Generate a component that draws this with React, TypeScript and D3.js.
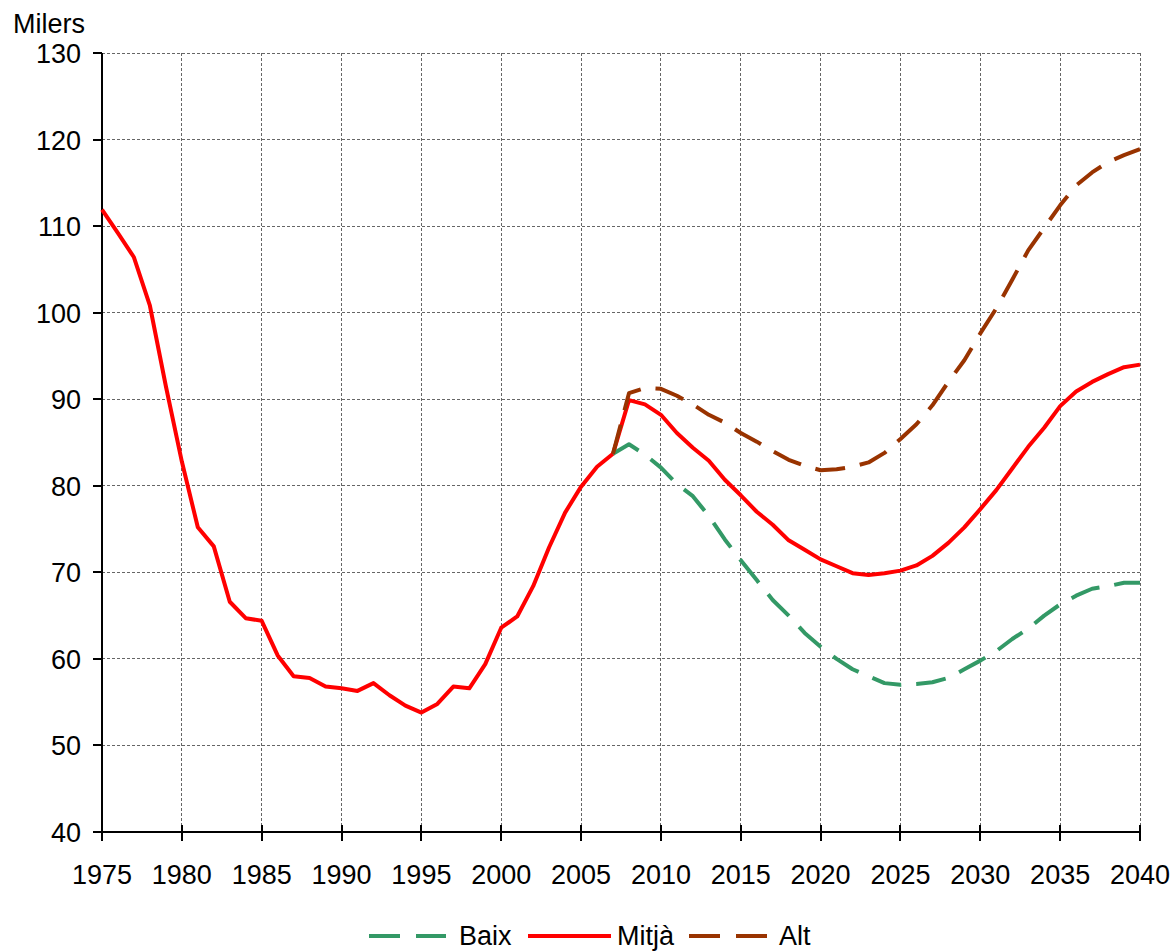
import React from 'react';
import * as d3 from 'd3';

// Projeccions (milers), 1975-2040
const years = d3.range(1975, 2041);
const projYears = d3.range(2007, 2041);

const mitja = [
  111.9, 109.2, 106.4, 100.8, 91.5, 82.8, 75.2, 73.0, 66.6, 64.7,
  64.4, 60.4, 58.0, 57.8, 56.8, 56.6, 56.3, 57.2, 55.8, 54.6,
  53.8, 54.8, 56.8, 56.6, 59.4, 63.6, 64.9, 68.4, 72.9, 76.9,
  79.9, 82.2, 83.7, 89.9, 89.4, 88.2, 86.1, 84.4, 82.9, 80.7,
  78.9, 77.0, 75.5, 73.7, 72.6, 71.5, 70.7, 69.9, 69.7, 69.9,
  70.2, 70.8, 71.9, 73.4, 75.2, 77.3, 79.5, 82.0, 84.5, 86.7,
  89.2, 90.9, 92.0, 92.9, 93.7, 94.0,
];

const baix = [
  83.7, 84.8, 83.6, 82.1, 80.2, 78.8, 76.5, 73.8, 71.4, 69.1,
  66.8, 65.0, 63.0, 61.4, 60.0, 58.8, 58.0, 57.2, 57.0, 57.1,
  57.3, 57.8, 58.8, 59.8, 60.9, 62.3, 63.5, 65.0, 66.3, 67.3,
  68.1, 68.4, 68.8, 68.8,
];

const alt = [
  83.7, 90.7, 91.3, 91.2, 90.4, 89.4, 88.2, 87.3, 86.1, 85.1,
  84.0, 83.0, 82.3, 81.8, 81.9, 82.2, 82.7, 83.8, 85.4, 87.1,
  89.3, 92.0, 94.5, 97.6, 100.5, 103.8, 107.2, 109.8, 112.4, 114.7,
  116.2, 117.4, 118.2, 118.9,
];

const xTicks = d3.range(1975, 2041, 5);
const yTicks = d3.range(40, 131, 10);

const series = [
  { name: 'Baix', color: '#339966', dash: '30,15', x: projYears, y: baix },
  { name: 'Mitjà', color: '#ff0000', dash: null, x: years, y: mitja },
  { name: 'Alt', color: '#993300', dash: '30,15', x: projYears, y: alt },
];

const W = 1170, H = 951;
const left = 102, right = 1140, top = 53, bottom = 832;
const font = '"Liberation Sans", Arial, sans-serif';

export default function App() {
  const x = d3.scaleLinear().domain([1975, 2040]).range([left, right]);
  const y = d3.scaleLinear().domain([40, 130]).range([bottom, top]);

  const line = d3.line<[number, number]>()
    .x(d => x(d[0]))
    .y(d => y(d[1]));

  // draw order: red first, then the projections on top
  const drawOrder = [series[1], series[0], series[2]];

  // legend pieces
  const legendY = 936;
  const legend = [
    { s: series[0], x0: 369, x1: 446, tx: 459 },
    { s: series[1], x0: 528, x1: 611, tx: 617 },
    { s: series[2], x0: 689, x1: 767, tx: 779 },
  ];

  return (
    <svg width={W} height={H} style={{ position: 'absolute', left: 0, top: 0, background: '#fff' }}
      fontFamily={font}>
      {/* grid */}
      <g stroke="#666" strokeWidth={1} strokeDasharray="3,2" shapeRendering="crispEdges">
        {yTicks.filter(t => t > 40).map(t => (
          <line key={'gy' + t} x1={left} x2={right} y1={y(t)} y2={y(t)} />
        ))}
        {xTicks.filter(t => t > 1975).map(t => (
          <line key={'gx' + t} x1={x(t)} x2={x(t)} y1={top} y2={bottom} />
        ))}
      </g>

      {/* axes */}
      <g stroke="#000" strokeWidth={2} shapeRendering="crispEdges">
        <line x1={left} x2={left} y1={top} y2={bottom} />
        <line x1={left} x2={right} y1={bottom} y2={bottom} />
        {yTicks.map(t => (
          <line key={'ty' + t} x1={left - 9} x2={left} y1={y(t)} y2={y(t)} />
        ))}
        {xTicks.map(t => (
          <line key={'tx' + t} x1={x(t)} x2={x(t)} y1={bottom - 7} y2={bottom + 9} />
        ))}
      </g>

      <g fontSize={27} fill="#000">
        {yTicks.map(t => (
          <text key={'ly' + t} x={81} y={y(t) + 10} textAnchor="end">{t}</text>
        ))}
        {xTicks.map(t => (
          <text key={'lx' + t} x={x(t)} y={884} textAnchor="middle">{t}</text>
        ))}
        <text x={13} y={33}>Milers</text>
      </g>

      {/* series */}
      {drawOrder.map(s => (
        <path key={s.name}
          d={line(s.x.map((yr, i) => [yr, s.y[i]] as [number, number])) || ''}
          fill="none" stroke={s.color} strokeWidth={4}
          strokeDasharray={s.dash || undefined} strokeLinejoin="round" />
      ))}

      {/* legend */}
      <g fontSize={27}>
        {legend.map(l => (
          <g key={l.s.name}>
            <line x1={l.x0} x2={l.x1} y1={legendY} y2={legendY}
              stroke={l.s.color} strokeWidth={4}
              strokeDasharray={l.s.dash ? '31,16' : undefined} />
            <text x={l.tx} y={legendY + 9}>{l.s.name}</text>
          </g>
        ))}
      </g>
    </svg>
  );
}
